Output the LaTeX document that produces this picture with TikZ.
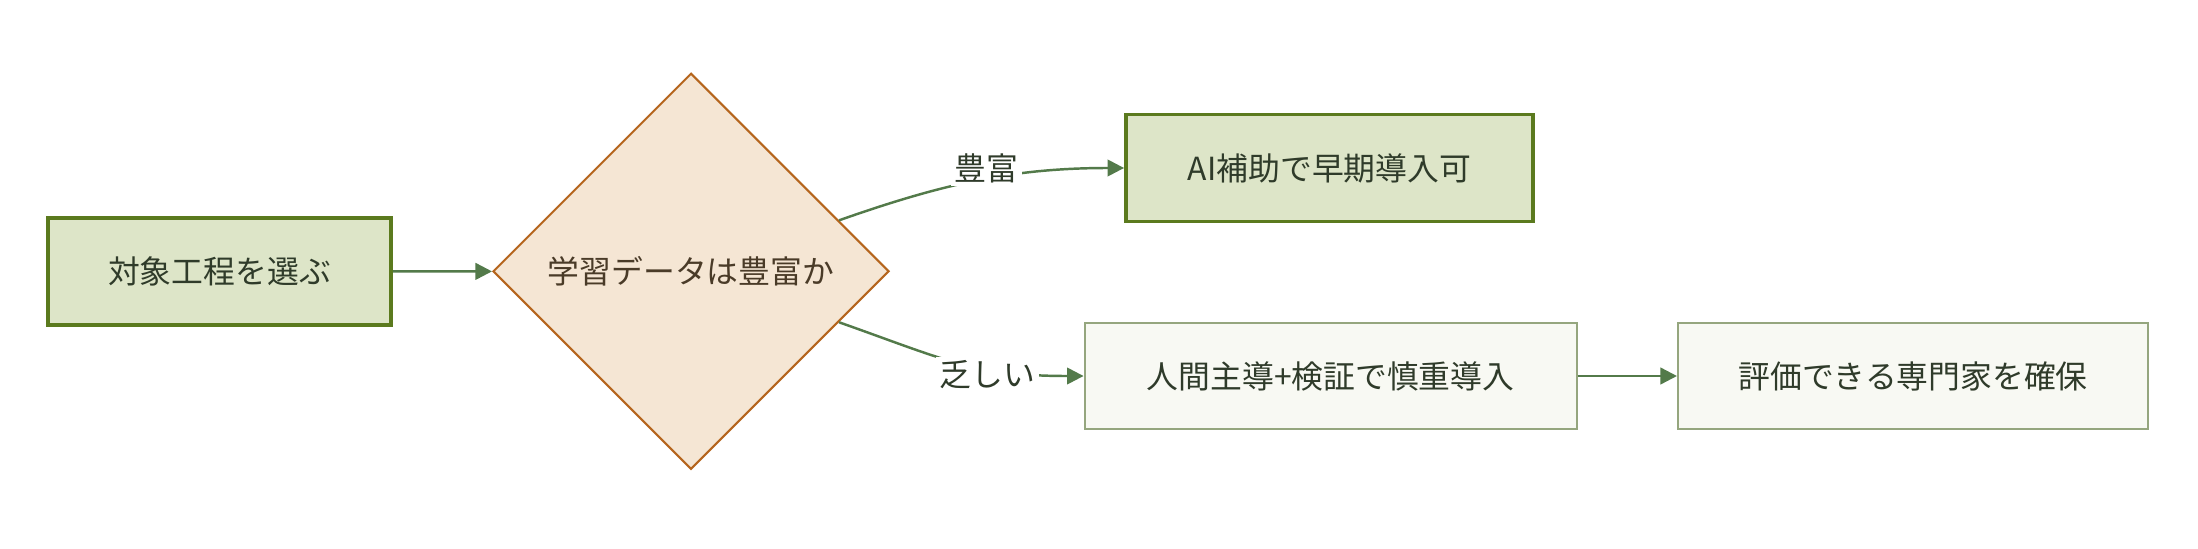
\documentclass[tikz,border=0pt]{standalone}
\usepackage{fontspec}
\setmainfont{Noto Sans CJK JP}
\usepackage{tikz}
\usetikzlibrary{arrows.meta,shapes.geometric,positioning,calc}

\definecolor{gfill}{HTML}{DDE5C8}
\definecolor{gline}{HTML}{5B7A1E}
\definecolor{pfill}{HTML}{F8F9F3}
\definecolor{pline}{HTML}{95A67E}
\definecolor{dfill}{HTML}{F5E6D4}
\definecolor{dline}{HTML}{B5651D}
\definecolor{eline}{HTML}{537A4A}
\definecolor{gtext}{HTML}{2F3B2A}
\definecolor{dtext}{HTML}{4A3B28}

\begin{document}
\begin{tikzpicture}[
    font=\fontsize{9.05}{11}\selectfont,
    proc/.style={draw=gline, line width=1.1pt, fill=gfill, text=gtext, minimum height=1.07cm, align=center, inner sep=0pt},
    act/.style={draw=pline, line width=0.6pt, fill=pfill, text=gtext, minimum height=1.06cm, align=center, inner sep=0pt},
    dec/.style={diamond, aspect=1, draw=dline, line width=0.6pt, fill=dfill, text=dtext, minimum width=3.96cm, minimum height=3.96cm, inner sep=0pt},
    arr/.style={-{Triangle[length=4.7pt,width=4.7pt]}, eline, line width=0.7pt},
    lbl/.style={font=\fontsize{9.05}{11}\selectfont, fill=white, text=gtext, inner sep=1pt}
]
\useasboundingbox (0,0) rectangle (21.98,5.48);

\node[proc, minimum width=3.43cm] (S) at (2.195,2.765) {対象工程を選ぶ};
\node[dec] (Q) at (6.91,2.767) {学習データは豊富か};
\node[proc, minimum width=4.07cm] (A) at (13.295,3.80) {AI補助で早期導入可};
\node[act, minimum width=4.92cm] (H) at (13.306,1.72) {人間主導+検証で慎重導入};
\node[act, minimum width=4.70cm] (E) at (19.13,1.72) {評価できる専門家を確保};

\draw[arr] (S) -- (Q);
\draw[arr] (Q.19) .. controls +(1.05,0.37) and +(-1.10,0) .. node[lbl, pos=0.5, xshift=0.07cm, yshift=0.12cm] {豊富} (A.west);
\draw[arr] (Q.-19) .. controls +(1.05,-0.37) and +(-1.10,0) .. node[lbl, pos=0.5, xshift=0.28cm, yshift=-0.12cm] {乏しい} (H.west);
\draw[arr] (H) -- (E);
\end{tikzpicture}
\end{document}
